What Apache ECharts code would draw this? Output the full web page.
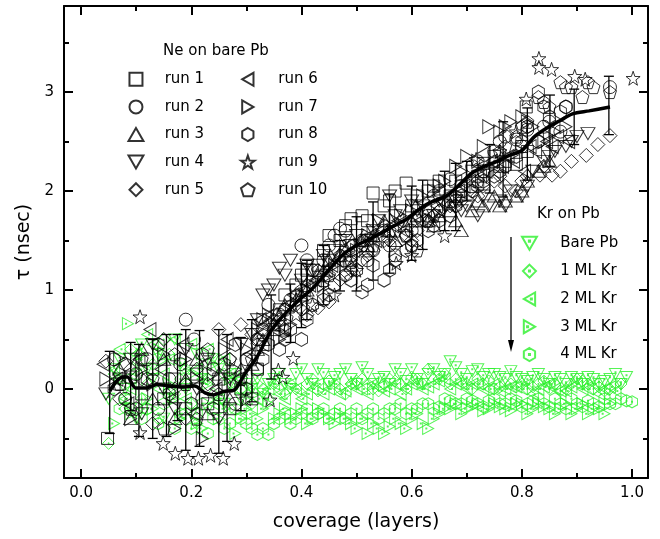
<!DOCTYPE html>
<html><head><meta charset="utf-8">
<script src="https://cdn.jsdelivr.net/npm/echarts@6/dist/echarts.min.js"></script>
<style>html,body{margin:0;padding:0;background:#fff}#c{width:660px;height:539px}</style>
</head><body><div id="c"></div>
<script>
// ---- Ne on bare Pb : runs 1..10  [coverage, tau] ----
const run1 = [[0.048,-0.5],[0.07,0.05],[0.09,0.12],[0.11,-0.05],[0.13,0.2],[0.15,-0.1],[0.17,0.1],[0.19,-0.2],[0.21,0.15],[0.23,-0.15],[0.25,0.1],[0.27,-0.2],[0.29,0.0],[0.31,-0.1],[0.33,0.45],[0.35,0.6],[0.37,0.95],[0.39,1.05],[0.41,1.2],[0.43,1.25],[0.45,1.55],[0.47,1.5],[0.49,1.72],[0.51,1.75],[0.53,1.98],[0.55,1.85],[0.57,2.0],[0.59,2.08],[0.61,1.95],[0.63,2.0],[0.65,2.1],[0.67,1.95],[0.69,2.05],[0.71,2.2],[0.73,2.28],[0.75,2.35],[0.77,2.3],[0.79,2.27],[0.81,2.4],[0.808,2.85],
  [0.32,0.2],[0.36,0.8],[0.40,1.15],[0.44,1.4],[0.48,1.65],[0.52,1.7],[0.56,1.9],[0.60,1.85],[0.64,2.05],[0.68,2.1],[0.72,2.15],[0.76,2.25],[0.80,2.45]];
const run2 = [[0.06,0.3],[0.08,-0.1],[0.10,0.15],[0.12,0.3],[0.14,-0.2],[0.16,0.1],[0.18,0.25],[0.19,0.7],[0.205,0.5],[0.22,-0.1],[0.24,0.2],[0.26,0.05],[0.28,-0.15],[0.30,0.3],[0.32,0.5],[0.34,0.85],[0.36,0.75],[0.38,0.9],[0.40,1.45],[0.42,1.2],[0.44,1.3],[0.46,1.55],[0.47,1.62],[0.49,1.35],[0.51,1.5],[0.53,1.4],[0.55,1.6],[0.57,1.35],[0.59,1.55],[0.61,1.7],[0.63,1.75],[0.65,2.0],[0.67,2.12],[0.69,2.05],[0.71,2.25],[0.73,2.2],[0.75,2.4],[0.77,2.55],[0.79,2.52],[0.81,2.62],[0.83,2.5],[0.85,2.7],[0.88,2.85],[0.96,3.05],
  [0.33,0.6],[0.37,0.8],[0.41,1.3],[0.45,1.45],[0.48,1.6],[0.52,1.3],[0.56,1.45],[0.60,1.6],[0.64,1.95],[0.68,1.9],[0.72,2.3],[0.76,2.5],[0.80,2.45],[0.84,2.65],[0.87,2.6]];
const run3 = [[0.07,0.2],[0.09,-0.3],[0.11,0.4],[0.13,-0.1],[0.15,0.3],[0.17,-0.3],[0.19,0.1],[0.21,0.3],[0.23,-0.25],[0.25,0.15],[0.27,-0.1],[0.29,0.2],[0.31,0.25],[0.33,0.5],[0.35,0.65],[0.37,0.85],[0.39,0.9],[0.41,1.0],[0.43,1.15],[0.45,1.3],[0.47,1.35],[0.49,1.25],[0.51,1.5],[0.53,1.55],[0.55,1.7],[0.57,1.5],[0.59,1.65],[0.61,1.75],[0.63,1.7],[0.65,1.75],[0.67,1.8],[0.69,1.6],[0.71,1.8],[0.73,1.85],[0.75,1.95],[0.77,1.9],[0.79,1.95],[0.81,2.1],[0.83,2.2],[0.85,2.3],
  [0.32,0.4],[0.36,0.75],[0.40,0.95],[0.44,1.2],[0.48,1.4],[0.52,1.45],[0.56,1.6],[0.60,1.7],[0.64,1.65],[0.68,1.7],[0.72,1.9],[0.76,1.85],[0.80,2.0],[0.84,2.25]];
const run4 = [[0.045,-0.05],[0.07,0.1],[0.09,0.3],[0.11,-0.25],[0.13,0.45],[0.15,0.0],[0.17,-0.2],[0.19,0.4],[0.21,0.0],[0.23,0.3],[0.25,-0.3],[0.27,0.1],[0.29,0.45],[0.31,0.55],[0.33,0.95],[0.35,1.05],[0.36,1.22],[0.38,1.3],[0.40,1.1],[0.42,1.2],[0.44,1.35],[0.46,1.4],[0.48,1.5],[0.50,1.55],[0.52,1.5],[0.54,1.7],[0.56,1.95],[0.58,1.8],[0.60,1.9],[0.62,1.85],[0.64,1.75],[0.66,1.85],[0.68,1.9],[0.70,1.85],[0.72,1.75],[0.74,1.85],[0.76,1.9],[0.78,2.0],[0.80,1.95],[0.82,2.2],[0.84,2.3],[0.86,2.4],[0.88,2.45],[0.90,2.55],[0.92,2.58],
  [0.32,0.7],[0.34,1.0],[0.37,1.15],[0.41,1.25],[0.45,1.3],[0.49,1.45],[0.53,1.6],[0.57,1.75],[0.61,1.8],[0.65,1.9],[0.69,1.8],[0.73,1.95],[0.77,1.85],[0.81,2.05],[0.85,2.35],[0.89,2.5]];
const run5 = [[0.045,0.28],[0.07,-0.1],[0.09,0.2],[0.11,0.1],[0.13,-0.35],[0.15,0.5],[0.17,0.0],[0.19,-0.3],[0.21,0.2],[0.23,0.05],[0.25,0.6],[0.27,0.3],[0.29,0.65],[0.31,0.55],[0.33,0.6],[0.35,0.65],[0.37,0.8],[0.39,0.85],[0.41,0.75],[0.43,0.82],[0.45,0.88],[0.47,1.1],[0.49,1.2],[0.51,1.3],[0.53,1.4],[0.55,1.5],[0.57,1.45],[0.59,1.55],[0.61,1.6],[0.63,1.7],[0.65,1.8],[0.67,1.85],[0.69,1.9],[0.71,2.0],[0.73,2.05],[0.75,2.1],[0.77,2.05],[0.79,2.0],[0.81,2.15],[0.833,2.16],[0.855,2.16],[0.87,2.2],[0.917,2.36],[0.938,2.47],[0.96,2.56],
  [0.32,0.5],[0.36,0.7],[0.40,0.8],[0.44,0.95],[0.48,1.15],[0.52,1.35],[0.56,1.5],[0.60,1.5],[0.64,1.75],[0.68,1.85],[0.72,1.95],[0.76,2.15],[0.80,2.1],[0.84,2.25],[0.89,2.3]];
const run6 = [[0.04,0.25],[0.065,0.1],[0.085,-0.15],[0.105,0.3],[0.125,0.6],[0.145,0.2],[0.165,-0.1],[0.185,0.45],[0.205,-0.25],[0.225,0.25],[0.245,0.0],[0.265,0.5],[0.285,0.1],[0.305,0.35],[0.325,0.7],[0.345,0.75],[0.365,0.6],[0.385,0.95],[0.405,1.0],[0.425,1.1],[0.445,1.2],[0.465,1.3],[0.485,1.45],[0.505,1.5],[0.525,1.55],[0.545,1.6],[0.565,1.65],[0.585,1.6],[0.605,1.75],[0.625,1.8],[0.645,1.85],[0.665,1.95],[0.685,2.0],[0.705,2.1],[0.725,2.15],[0.745,2.3],[0.765,2.25],[0.785,2.3],[0.805,2.2],[0.825,2.4],[0.845,2.5],[0.865,2.55],[0.885,2.5],
  [0.335,0.65],[0.375,0.85],[0.415,1.05],[0.455,1.25],[0.495,1.4],[0.535,1.5],[0.575,1.7],[0.615,1.7],[0.655,1.9],[0.695,2.05],[0.735,2.2],[0.775,2.35],[0.815,2.45],[0.855,2.45]];
const run7 = [[0.045,0.1],[0.07,0.3],[0.09,-0.3],[0.11,0.2],[0.13,0.05],[0.15,0.35],[0.17,-0.4],[0.19,0.3],[0.21,0.1],[0.22,-0.5],[0.24,0.15],[0.26,0.4],[0.28,0.2],[0.30,0.4],[0.32,0.6],[0.34,0.75],[0.36,0.5],[0.38,0.65],[0.40,0.9],[0.42,1.1],[0.44,1.05],[0.46,1.25],[0.48,1.35],[0.50,1.4],[0.52,1.55],[0.54,1.7],[0.56,1.65],[0.58,1.75],[0.60,1.8],[0.62,1.95],[0.64,2.0],[0.66,2.1],[0.68,2.25],[0.70,2.35],[0.72,2.3],[0.74,2.65],[0.76,2.6],[0.78,2.7],[0.80,2.75],[0.82,2.65],[0.84,2.5],[0.86,2.6],[0.88,2.65],
  [0.33,0.7],[0.37,0.55],[0.41,1.0],[0.45,1.15],[0.49,1.3],[0.53,1.6],[0.57,1.7],[0.61,1.85],[0.65,2.05],[0.69,2.2],[0.73,2.45],[0.77,2.65],[0.81,2.7],[0.85,2.55]];
const run8 = [[0.06,0.0],[0.08,0.25],[0.10,-0.2],[0.12,0.1],[0.14,0.45],[0.16,-0.05],[0.18,0.3],[0.20,-0.15],[0.22,0.35],[0.24,-0.2],[0.26,0.25],[0.28,0.45],[0.30,0.0],[0.32,0.2],[0.34,0.45],[0.36,0.4],[0.38,0.6],[0.40,0.5],[0.42,0.85],[0.44,0.9],[0.46,1.05],[0.48,1.15],[0.50,1.2],[0.51,0.98],[0.53,1.25],[0.55,1.1],[0.57,1.3],[0.59,1.4],[0.61,1.5],[0.63,1.6],[0.65,1.7],[0.67,1.75],[0.69,1.95],[0.71,2.0],[0.73,2.1],[0.75,2.15],[0.77,2.25],[0.79,2.35],[0.81,2.65],[0.83,3.0],[0.85,2.75],[0.87,2.8],
  [0.33,0.3],[0.37,0.5],[0.41,0.7],[0.45,0.95],[0.49,1.1],[0.52,1.05],[0.56,1.2],[0.60,1.45],[0.64,1.65],[0.68,1.85],[0.72,2.05],[0.76,2.2],[0.80,2.5],[0.84,2.85],[0.88,2.85]];
const run9 = [[0.107,0.73],[0.107,-0.44],[0.149,-0.55],[0.171,-0.65],[0.194,-0.7],[0.213,-0.7],[0.235,-0.67],[0.258,-0.7],[0.278,-0.55],[0.30,-0.1],[0.343,-0.11],[0.358,0.19],[0.366,0.12],[0.385,0.31],[0.39,0.75],[0.42,0.85],[0.46,0.95],[0.50,1.2],[0.572,1.27],[0.60,1.35],[0.66,1.55],[0.717,2.32],[0.76,2.4],[0.79,2.6],[0.808,2.93],[0.831,3.34],[0.831,3.25],[0.854,3.23],[0.896,3.16],[0.915,3.13],[1.002,3.14]];
const run10 = [[0.07,0.05],[0.09,-0.2],[0.11,0.3],[0.13,0.1],[0.15,-0.4],[0.17,0.35],[0.19,0.05],[0.21,-0.3],[0.23,0.4],[0.25,-0.05],[0.27,0.3],[0.29,0.1],[0.31,0.3],[0.33,0.55],[0.35,0.7],[0.37,0.6],[0.39,0.95],[0.41,1.05],[0.43,1.2],[0.45,1.15],[0.47,1.35],[0.49,1.3],[0.51,1.45],[0.53,1.45],[0.55,1.55],[0.57,1.6],[0.59,1.55],[0.61,1.4],[0.63,1.7],[0.65,1.8],[0.67,1.9],[0.69,2.0],[0.71,2.05],[0.73,2.2],[0.75,2.3],[0.77,2.45],[0.79,2.55],[0.81,2.7],[0.83,2.95],[0.85,2.85],[0.87,3.1],[0.89,3.05],[0.91,2.95],[0.93,3.05],[0.96,3.0],
  [0.32,0.45],[0.36,0.65],[0.40,1.0],[0.44,1.1],[0.48,1.3],[0.52,1.4],[0.56,1.6],[0.60,1.45],[0.64,1.75],[0.68,1.95],[0.72,2.1],[0.76,2.4],[0.80,2.65],[0.84,2.9],[0.88,3.05],[0.92,3.1]];

// ---- Kr on Pb ----
const krBare = [[0.05,-0.1],[0.07,0.3],[0.09,-0.2],[0.11,0.45],[0.13,0.1],[0.15,-0.3],[0.17,0.5],[0.19,0.0],[0.21,0.35],[0.23,-0.2],[0.25,0.2],[0.27,0.05],[0.29,-0.1],[0.31,0.0],[0.33,-0.05],[0.35,0.1],[0.37,0.05],[0.39,0.15],[0.41,0.1],[0.43,0.2],[0.45,0.05],[0.47,0.15],[0.49,0.1],[0.51,0.22],[0.53,0.05],[0.55,0.12],[0.57,0.2],[0.59,0.08],[0.61,0.1],[0.63,0.15],[0.65,0.12],[0.67,0.28],[0.69,0.15],[0.71,0.18],[0.73,0.12],[0.75,0.15],[0.77,0.1],[0.79,0.12],[0.81,0.08],[0.83,0.15],[0.85,0.05],[0.87,0.1],[0.89,0.12],[0.91,0.05],[0.93,0.1],[0.95,0.08],[0.97,0.15],[0.99,0.12],
  [0.06,0.2],[0.08,0.0],[0.10,-0.3],[0.12,0.2],[0.14,0.35],[0.16,-0.1],[0.18,0.25],[0.20,-0.25],[0.22,0.1],[0.24,0.3],[0.26,-0.15],[0.28,0.15],[0.30,0.05],[0.32,0.1],[0.34,0.05],[0.36,0.15],[0.38,0.0],[0.40,0.2],[0.42,0.05],[0.44,0.15],[0.46,0.12],[0.48,0.2],[0.50,0.05],[0.52,0.15],[0.54,0.1],[0.56,0.05],[0.58,0.15],[0.60,0.2],[0.62,0.05],[0.64,0.2],[0.66,0.15],[0.68,0.22],[0.70,0.1],[0.72,0.2],[0.74,0.15],[0.76,0.12],[0.78,0.18],[0.80,0.1],[0.82,0.12],[0.84,0.1],[0.86,0.12],[0.88,0.05],[0.90,0.1],[0.92,0.12],[0.94,0.05],[0.96,0.1],[0.98,0.05]];
const kr1ML = [[0.05,-0.55],[0.07,0.1],[0.09,0.4],[0.11,-0.1],[0.13,0.25],[0.15,0.5],[0.17,-0.05],[0.19,0.2],[0.21,-0.35],[0.23,0.1],[0.25,0.3],[0.27,-0.2],[0.29,0.0],[0.31,-0.15],[0.33,0.0],[0.35,0.05],[0.37,-0.05],[0.39,0.0],[0.41,0.05],[0.43,-0.02],[0.45,0.08],[0.47,0.0],[0.49,0.05],[0.51,0.1],[0.53,0.0],[0.55,0.05],[0.57,0.08],[0.59,0.0],[0.61,0.1],[0.63,0.2],[0.65,0.1],[0.67,0.05],[0.69,0.08],[0.71,0.0],[0.73,0.05],[0.75,0.0],[0.77,0.05],[0.79,0.02],[0.81,0.0],[0.83,0.05],[0.85,0.0],[0.87,-0.02],[0.89,0.05],[0.91,0.08],[0.93,0.0],[0.95,-0.02],[0.97,0.05],
  [0.06,0.15],[0.08,-0.2],[0.10,0.3],[0.12,0.05],[0.14,-0.3],[0.16,0.35],[0.18,0.1],[0.20,-0.15],[0.22,0.25],[0.24,-0.05],[0.26,0.15],[0.28,0.1],[0.30,-0.1],[0.32,0.05],[0.34,-0.1],[0.36,0.0],[0.38,0.05],[0.40,-0.05],[0.42,0.1],[0.44,0.0],[0.46,0.05],[0.48,-0.05],[0.50,0.08],[0.52,0.05],[0.54,-0.02],[0.56,0.1],[0.58,0.05],[0.60,0.12],[0.62,0.05],[0.64,0.1],[0.66,0.15],[0.68,0.1],[0.70,0.05],[0.72,0.1],[0.74,0.08],[0.76,0.02],[0.78,0.05],[0.80,0.05],[0.82,0.02],[0.84,0.08],[0.86,0.05],[0.88,0.0],[0.90,0.1],[0.92,0.05],[0.94,0.02],[0.96,0.0],[0.98,0.05]];
const kr2ML = [[0.06,0.2],[0.08,-0.1],[0.10,0.35],[0.12,0.55],[0.14,0.0],[0.16,0.3],[0.18,-0.25],[0.20,0.45],[0.22,0.1],[0.24,-0.15],[0.26,0.3],[0.28,0.0],[0.30,-0.05],[0.32,-0.1],[0.34,0.0],[0.36,-0.05],[0.38,0.05],[0.40,-0.1],[0.42,0.0],[0.44,-0.05],[0.46,0.05],[0.48,-0.02],[0.50,0.0],[0.52,-0.05],[0.54,0.02],[0.56,0.0],[0.58,-0.05],[0.60,0.05],[0.62,0.0],[0.64,0.05],[0.66,0.1],[0.68,0.05],[0.70,0.0],[0.72,0.05],[0.74,0.0],[0.76,-0.02],[0.78,0.02],[0.80,0.0],[0.82,-0.05],[0.84,0.02],[0.86,0.0],[0.88,-0.02],[0.90,0.05],[0.92,0.0],[0.94,-0.05],[0.96,0.02],
  [0.07,0.4],[0.09,0.0],[0.11,-0.2],[0.13,0.45],[0.15,0.15],[0.17,0.5],[0.19,-0.1],[0.21,0.2],[0.23,0.4],[0.25,-0.1],[0.27,0.15],[0.29,0.1],[0.31,0.0],[0.33,-0.05],[0.35,0.05],[0.37,-0.1],[0.39,0.0],[0.41,-0.05],[0.43,0.05],[0.45,0.0],[0.47,-0.05],[0.49,0.05],[0.51,0.0],[0.53,0.05],[0.55,-0.02],[0.57,0.05],[0.59,0.0],[0.61,0.05],[0.63,0.02],[0.65,0.08],[0.67,0.0],[0.69,0.05],[0.71,0.05],[0.73,0.0],[0.75,0.05],[0.77,0.0],[0.79,0.02],[0.81,0.05],[0.83,0.0],[0.85,0.05],[0.87,-0.02],[0.89,0.02],[0.91,0.0],[0.93,0.05],[0.95,0.0],[0.97,-0.02]];
const kr3ML = [[0.06,-0.35],[0.085,0.66],[0.10,0.2],[0.12,-0.1],[0.14,0.4],[0.16,0.05],[0.18,-0.3],[0.20,0.15],[0.22,-0.4],[0.24,0.25],[0.26,-0.2],[0.28,-0.45],[0.30,-0.2],[0.32,-0.3],[0.34,-0.15],[0.36,-0.25],[0.38,-0.3],[0.40,-0.2],[0.42,-0.3],[0.44,-0.25],[0.46,-0.35],[0.48,-0.3],[0.50,-0.4],[0.52,-0.45],[0.54,-0.4],[0.56,-0.38],[0.58,-0.35],[0.60,-0.3],[0.62,-0.35],[0.64,-0.3],[0.66,-0.2],[0.68,-0.15],[0.70,-0.2],[0.72,-0.15],[0.74,-0.2],[0.76,-0.18],[0.78,-0.22],[0.80,-0.15],[0.82,-0.2],[0.84,-0.18],[0.86,-0.25],[0.88,-0.15],[0.90,-0.2],[0.92,-0.25],[0.94,-0.2],[0.96,-0.15],
  [0.07,0.1],[0.09,-0.25],[0.11,0.35],[0.13,-0.2],[0.15,0.3],[0.17,-0.1],[0.19,0.2],[0.21,-0.35],[0.23,0.05],[0.25,-0.3],[0.27,0.1],[0.29,-0.3],[0.31,-0.25],[0.33,-0.2],[0.35,-0.3],[0.37,-0.2],[0.39,-0.25],[0.41,-0.35],[0.43,-0.2],[0.45,-0.3],[0.47,-0.25],[0.49,-0.35],[0.51,-0.3],[0.53,-0.35],[0.55,-0.45],[0.57,-0.3],[0.59,-0.4],[0.61,-0.25],[0.63,-0.4],[0.65,-0.25],[0.67,-0.2],[0.69,-0.25],[0.71,-0.18],[0.73,-0.22],[0.75,-0.15],[0.77,-0.2],[0.79,-0.15],[0.81,-0.25],[0.83,-0.15],[0.85,-0.2],[0.87,-0.2],[0.89,-0.25],[0.91,-0.15],[0.93,-0.2],[0.95,-0.25]];
const kr4ML = [[0.07,-0.2],[0.09,0.1],[0.11,-0.3],[0.13,0.2],[0.15,-0.15],[0.17,-0.4],[0.19,0.05],[0.21,-0.25],[0.23,-0.45],[0.25,-0.1],[0.27,-0.35],[0.29,-0.3],[0.31,-0.4],[0.32,-0.46],[0.34,-0.46],[0.36,-0.3],[0.38,-0.35],[0.40,-0.25],[0.42,-0.3],[0.44,-0.2],[0.46,-0.25],[0.48,-0.3],[0.50,-0.2],[0.52,-0.25],[0.54,-0.3],[0.56,-0.2],[0.58,-0.15],[0.60,-0.2],[0.62,-0.15],[0.64,-0.2],[0.66,-0.1],[0.68,-0.15],[0.70,-0.1],[0.72,-0.15],[0.74,-0.12],[0.76,-0.15],[0.78,-0.1],[0.80,-0.18],[0.82,-0.12],[0.84,-0.15],[0.86,-0.1],[0.88,-0.2],[0.90,-0.15],[0.92,-0.12],[0.94,-0.18],[0.96,-0.15],[0.98,-0.1],[1.0,-0.13],
  [0.08,-0.1],[0.10,0.15],[0.12,-0.2],[0.14,-0.35],[0.16,0.0],[0.18,-0.25],[0.20,-0.4],[0.22,-0.15],[0.24,-0.3],[0.26,-0.4],[0.28,-0.2],[0.30,-0.35],[0.33,-0.4],[0.35,-0.35],[0.37,-0.25],[0.39,-0.3],[0.41,-0.2],[0.43,-0.25],[0.45,-0.3],[0.47,-0.2],[0.49,-0.25],[0.51,-0.3],[0.53,-0.2],[0.55,-0.25],[0.57,-0.2],[0.59,-0.25],[0.61,-0.2],[0.63,-0.15],[0.65,-0.18],[0.67,-0.12],[0.69,-0.15],[0.71,-0.12],[0.73,-0.18],[0.75,-0.1],[0.77,-0.15],[0.79,-0.12],[0.81,-0.15],[0.83,-0.1],[0.85,-0.18],[0.87,-0.15],[0.89,-0.1],[0.91,-0.18],[0.93,-0.15],[0.95,-0.1],[0.97,-0.15],[0.99,-0.12]];

// ---- averaged curve and error bars [coverage, low, high] ----
const meanCurve = [[0.052,-0.02],[0.065,0.08],[0.076,0.12],[0.084,0.12],[0.099,0.01],[0.118,0.01],[0.137,0.045],[0.16,0.03],[0.183,0.02],[0.206,0.03],[0.225,-0.04],[0.24,-0.06],[0.259,-0.025],[0.278,-0.01],[0.297,0.15],[0.32,0.33],[0.343,0.57],[0.362,0.71],[0.381,0.82],[0.4,0.92],[0.419,1.01],[0.434,1.1],[0.457,1.25],[0.48,1.38],[0.503,1.46],[0.526,1.52],[0.549,1.59],[0.572,1.66],[0.595,1.73],[0.617,1.83],[0.64,1.9],[0.663,1.95],[0.686,2.06],[0.709,2.18],[0.732,2.25],[0.755,2.3],[0.777,2.36],[0.8,2.41],[0.823,2.55],[0.846,2.64],[0.869,2.71],[0.892,2.78],[0.922,2.81],[0.96,2.85]];
const errBars = [[0.052,-0.45,0.38],[0.09,-0.22,0.47],[0.105,-0.48,0.45],[0.13,-0.5,0.5],[0.155,-0.48,0.55],[0.175,-0.32,0.55],[0.19,-0.62,0.6],[0.215,-0.58,0.59],[0.25,-0.65,0.6],[0.265,-0.53,0.55],[0.29,-0.22,0.52],[0.31,-0.13,0.7],[0.345,0.1,0.95],[0.38,0.47,1.06],[0.40,0.62,1.27],[0.41,0.7,1.3],[0.44,0.85,1.45],[0.47,0.99,1.5],[0.50,0.99,1.74],[0.53,1.1,1.89],[0.56,1.17,1.97],[0.60,1.3,2.05],[0.62,1.41,2.11],[0.66,1.6,2.2],[0.68,1.6,2.28],[0.70,1.9,2.3],[0.742,1.98,2.47],[0.766,1.94,2.7],[0.81,2.11,2.84],[0.851,2.25,2.97],[0.895,2.47,3.03],[0.958,2.57,3.16]];

// ---- axis ticks / names ----
const xMajorTicks = [0, 0.2, 0.4, 0.6, 0.8, 1.0];
const xMinorTicks = [0.1, 0.3, 0.5, 0.7, 0.9];
const yMajorTicks = [0, 1, 2, 3];
const yMinorTicks = [-0.5, 0.5, 1.5, 2.5, 3.5];
const runNames = ['run 1','run 2','run 3','run 4','run 5','run 6','run 7','run 8','run 9','run 10'];
const krNames = ['Bare Pb','1 ML Kr','2 ML Kr','3 ML Kr','4 ML Kr'];

const SYM = {
  square: 'path://M0,0H10V10H0Z',
  circle: 'path://M10,5A5,5,0,1,1,0,5A5,5,0,1,1,10,5Z',
  triUp: 'path://M5,0L10,8.7L0,8.7Z',
  triDown: 'path://M0,0L10,0L5,8.7Z',
  triLeft: 'path://M8.7,0L8.7,10L0,5Z',
  triRight: 'path://M0,0L8.7,5L0,10Z',
  diamond: 'path://M5,0L10,5L5,10L0,5Z',
  hexagon: 'path://M5,0L9.33,2.5L9.33,7.5L5,10L0.67,7.5L0.67,2.5Z',
  star: 'path://M5,0L6.18,3.38L9.76,3.46L6.9,5.62L7.94,9.05L5,7L2.06,9.05L3.1,5.62L0.24,3.46L3.82,3.38Z',
  pentagon: 'path://M5,0L9.76,3.46L7.94,9.05L2.06,9.05L0.24,3.46Z'
};
const GSYM = {
  triDown: 'path://M0,0L10,0L5,8.7Z M4.6,2.5h0.8v0.8h-0.8Z',
  diamond: 'path://M5,0L10,5L5,10L0,5Z M4.6,4.6h0.8v0.8h-0.8Z',
  triLeft: 'path://M8.7,0L8.7,10L0,5Z M5.4,4.6h0.8v0.8h-0.8Z',
  triRight: 'path://M0,0L8.7,5L0,10Z M2.5,4.6h0.8v0.8h-0.8Z',
  hexagon: 'path://M5,0L9.33,2.5L9.33,7.5L5,10L0.67,7.5L0.67,2.5Z M4.6,4.6h0.8v0.8h-0.8Z'
};
const runSyms = [SYM.square, SYM.circle, SYM.triUp, SYM.triDown, SYM.diamond, SYM.triLeft, SYM.triRight, SYM.hexagon, SYM.star, SYM.pentagon];
const krSyms = [GSYM.triDown, GSYM.diamond, GSYM.triLeft, GSYM.triRight, GSYM.hexagon];

const FONT = 'DejaVu Sans';
const X_MIN = -0.031, X_MAX = 1.029, Y_MIN = -0.9, Y_MAX = 3.87;
const black = '#000';
const green = '#2af02a';

function scatter(name, data, symbol, size, color, z) {
  return { name, type: 'scatter', data, symbol, symbolSize: size,
    itemStyle: { color: 'transparent', borderColor: color, borderWidth: 1 },
    emphasis: { disabled: true }, z, silent: true, animation: false };
}

const series = [
  scatter('Bare Pb', krBare, krSyms[0], [12,11], green, 2),
  scatter('1 ML Kr', kr1ML, krSyms[1], [12,12], green, 2),
  scatter('2 ML Kr', kr2ML, krSyms[2], [11,12], green, 2),
  scatter('3 ML Kr', kr3ML, krSyms[3], [11,12], green, 2),
  scatter('4 ML Kr', kr4ML, krSyms[4], [11,12], green, 2),
  scatter('run 1', run1, runSyms[0], [12,12], black, 3),
  scatter('run 2', run2, runSyms[1], [13,13], black, 3),
  scatter('run 3', run3, runSyms[2], [14,12], black, 3),
  scatter('run 4', run4, runSyms[3], [14,12], black, 3),
  scatter('run 5', run5, runSyms[4], [14,14], black, 3),
  scatter('run 6', run6, runSyms[5], [12,14], black, 3),
  scatter('run 7', run7, runSyms[6], [12,14], black, 3),
  scatter('run 8', run8, runSyms[7], [12,14], black, 3),
  scatter('run 9', run9, runSyms[8], [14,14], black, 3),
  scatter('run 10', run10, runSyms[9], [13,13], black, 3),
  { type: 'custom', name: 'err', z: 4, silent: true, animation: false,
    encode: { x: 0, y: [1, 2] }, data: errBars,
    renderItem: function (params, api) {
      const x = api.value(0), lo = api.value(1), hi = api.value(2);
      const p1 = api.coord([x, lo]), p2 = api.coord([x, hi]);
      const hw = 5, st = { stroke: '#000', lineWidth: 1.3 };
      return { type: 'group', children: [
        { type: 'line', shape: { x1: p1[0], y1: p1[1], x2: p2[0], y2: p2[1] }, style: st },
        { type: 'line', shape: { x1: p1[0]-hw, y1: p1[1], x2: p1[0]+hw, y2: p1[1] }, style: st },
        { type: 'line', shape: { x1: p2[0]-hw, y1: p2[1], x2: p2[0]+hw, y2: p2[1] }, style: st }
      ]};
    } },
  { type: 'line', name: 'mean', data: meanCurve, showSymbol: false, smooth: 0.3, z: 5,
    lineStyle: { color: '#000', width: 3.5 }, silent: true, animation: false }
];

const lineSt = { color: '#000', width: 2 };
function xAx(pos, ticks, len, main) {
  return { type: 'value', min: X_MIN, max: X_MAX, position: pos,
    axisLine: { show: main, onZero: false, lineStyle: lineSt },
    axisTick: { show: true, inside: true, length: len, customValues: ticks, lineStyle: lineSt },
    axisLabel: (main && pos === 'bottom') ? { show: true, customValues: xMajorTicks, formatter: v => v.toFixed(1), margin: 8, fontFamily: FONT, fontSize: 15, color: '#000' } : { show: false },
    splitLine: { show: false },
    name: (main && pos === 'bottom') ? 'coverage (layers)' : '', nameLocation: 'middle', nameGap: 35,
    nameTextStyle: { fontFamily: FONT, fontSize: 19, color: '#000' } };
}
function yAx(pos, ticks, len, main) {
  return { type: 'value', min: Y_MIN, max: Y_MAX, position: pos,
    axisLine: { show: main, onZero: false, lineStyle: lineSt },
    axisTick: { show: true, inside: true, length: len, customValues: ticks, lineStyle: lineSt },
    axisLabel: (main && pos === 'left') ? { show: true, customValues: yMajorTicks, formatter: v => String(Math.round(v)), margin: 10, fontFamily: FONT, fontSize: 15, color: '#000' } : { show: false },
    splitLine: { show: false },
    name: (main && pos === 'left') ? 'τ (nsec)' : '', nameLocation: 'middle', nameGap: 26,
    nameTextStyle: { fontFamily: FONT, fontSize: 19, color: '#000' } };
}

const legendText = { fontFamily: FONT, fontSize: 15, color: '#000', lineHeight: 14 };
function legendItems(names, syms) { return names.map((n, i) => ({ name: n, icon: syms[i] })); }
const option = {
  backgroundColor: '#fff',
  animation: false,
  grid: { left: 64, right: 12, top: 6, bottom: 61, containLabel: false, outerBoundsMode: 'none' },
  xAxis: [ xAx('bottom', xMajorTicks, 9, true), xAx('bottom', xMinorTicks, 5, false),
           xAx('top', xMajorTicks, 9, true), xAx('top', xMinorTicks, 5, false) ],
  yAxis: [ yAx('left', yMajorTicks, 9, true), yAx('left', yMinorTicks, 5, false),
           yAx('right', yMajorTicks, 9, true), yAx('right', yMinorTicks, 5, false) ],
  legend: [
    { data: legendItems(runNames.slice(0, 5), runSyms.slice(0, 5)), orient: 'vertical', left: 127.5, top: 71.8, padding: 0,
      itemWidth: 47.4, itemHeight: 13, itemGap: 12.6, textStyle: legendText, selectedMode: false },
    { data: legendItems(runNames.slice(5), runSyms.slice(5)), orient: 'vertical', left: 240, top: 71.8, padding: 0,
      itemWidth: 51, itemHeight: 13, itemGap: 12.6, textStyle: legendText, selectedMode: false },
    { data: legendItems(krNames, krSyms), orient: 'vertical', left: 521, top: 235.8, padding: 0,
      itemWidth: 51.6, itemHeight: 13, itemGap: 12.8, textStyle: legendText, selectedMode: false }
  ],
  graphic: [
    { type: 'text', left: 163, top: 44, style: { text: 'Ne on bare Pb', font: '15px "DejaVu Sans"', fill: '#000' } },
    { type: 'text', left: 537, top: 207, style: { text: 'Kr on Pb', font: '15px "DejaVu Sans"', fill: '#000' } },
    { type: 'line', shape: { x1: 511, y1: 237, x2: 511, y2: 344 }, style: { stroke: '#000', lineWidth: 1.3 } },
    { type: 'polygon', shape: { points: [[508, 340], [514, 340], [511, 352]] }, style: { fill: '#000' } }
  ],
  series: series
};
echarts.init(document.getElementById('c'), null, { renderer: 'canvas' }).setOption(option);
</script></body></html>
